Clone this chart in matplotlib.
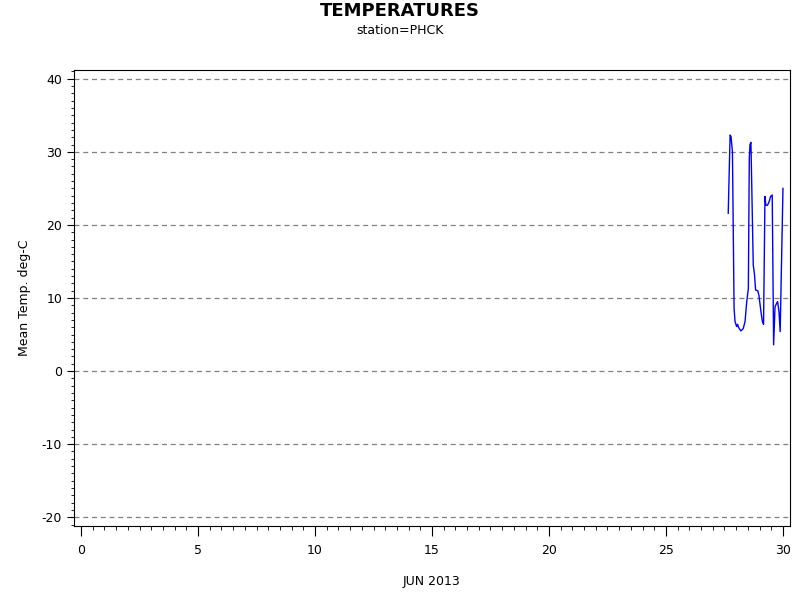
import matplotlib
matplotlib.use("Agg")
import matplotlib.pyplot as plt
from matplotlib.ticker import MultipleLocator

plt.rcParams["axes.unicode_minus"] = False

# day of June 2013 (fractional) and mean temperature, deg-C
day = [27.66, 27.74, 27.78, 27.84, 27.91, 27.95, 28.02, 28.06, 28.10, 28.20,
       28.30, 28.38, 28.45, 28.52, 28.56, 28.59, 28.63, 28.73, 28.78, 28.83,
       28.92, 28.97, 29.06, 29.12, 29.17, 29.23, 29.27, 29.34, 29.41, 29.47,
       29.54, 29.60, 29.66, 29.73, 29.77, 29.83, 29.88, 30.00]
temp = [21.6, 32.3, 32.1, 30.0, 8.6, 6.8, 6.1, 6.4, 6.0, 5.5,
        5.8, 6.8, 9.5, 11.3, 29.1, 31.0, 31.3, 14.5, 13.3, 11.1,
        11.0, 10.4, 8.1, 6.8, 6.4, 23.9, 22.7, 22.7, 23.2, 23.9,
        24.1, 3.6, 8.8, 9.3, 9.5, 8.1, 5.4, 25.0]

fig = plt.figure(figsize=(8, 6), dpi=100)
ax = fig.add_axes([0.0925, 0.1233, 0.895, 0.76])

ax.plot(day, temp, color="blue", linewidth=1)

ax.set_xlim(-0.3, 30.3)
ax.set_ylim(-21.2, 41.2)
ax.xaxis.set_major_locator(MultipleLocator(5))
ax.xaxis.set_minor_locator(MultipleLocator(0.5))
ax.yaxis.set_major_locator(MultipleLocator(10))
ax.yaxis.set_minor_locator(MultipleLocator(1))
ax.tick_params(axis="x", which="major", length=7, labelsize=9, pad=6)
ax.tick_params(axis="x", which="minor", length=3)
ax.tick_params(axis="y", which="major", length=5, labelsize=9)
ax.tick_params(axis="y", which="minor", length=2.5)

ax.yaxis.grid(True, which="major", linestyle=(0, (4, 3)), color="gray", linewidth=0.9)

ax.set_ylabel("Mean Temp. deg-C", fontsize=9, labelpad=8)
ax.set_xlabel("JUN 2013", fontsize=9, labelpad=13)

fig.text(0.5, 0.982, "TEMPERATURES", ha="center", va="center", fontsize=13, fontweight="bold")
fig.text(0.5, 0.95, "station=PHCK", ha="center", va="center", fontsize=9)

fig.savefig("out.png", dpi=100)
